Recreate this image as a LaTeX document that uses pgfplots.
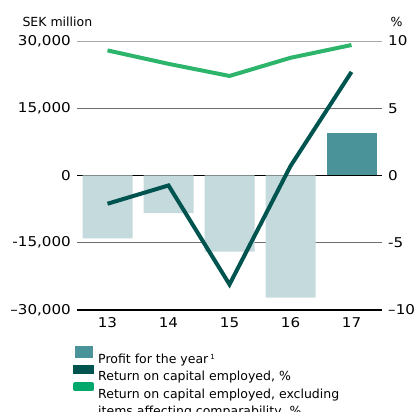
\documentclass[border=0pt]{standalone}
\usepackage{fontspec}
\setmainfont{DejaVu Sans}
\newfontfamily\tickfam[FakeStretch=1.12, Ligatures=TeX]{DejaVu Sans}
\usepackage{pgfplots}
\pgfplotsset{compat=1.18}
\definecolor{lightbar}{HTML}{C5DADD}
\definecolor{darkbar}{HTML}{4A9399}
\definecolor{darkline}{HTML}{00544F}
\definecolor{greenline}{HTML}{2DB56C}
\definecolor{legendgreen}{HTML}{00A86B}
\definecolor{gridgray}{HTML}{6E6E6E}
\definecolor{topgray}{HTML}{A8A8A8}
\newcommand{\tickfont}{\tickfam\fontsize{13.5}{16}\selectfont}
\begin{document}
\begin{tikzpicture}
\pgfplotsset{
  common/.style={
    scale only axis, width=305pt, height=269pt,
    xmin=12.5, xmax=17.5,
    major tick length=0pt,
    scaled y ticks=false, scaled x ticks=false,
    tick label style={font=\tickfont},
  }
}
\begin{axis}[common, name=ax,
  axis lines=left, axis line style={draw=none},
  ymin=-30000, ymax=30000,
  ytick={-15000,15000,30000},
  yticklabels={{-15,000},{15,000},{30,000}},
  ymajorgrids, grid style={gridgray, line width=0.6pt},
  extra y ticks={-30000,0},
  extra y tick labels={{--30,000},{0}},
  extra y tick style={grid style={black, line width=1.2pt}},
  xtick={13,14,15,16,17}, xticklabels={13,14,15,16,17},
  yticklabel style={inner xsep=0pt, xshift=-6pt},
  xticklabel style={inner ysep=0pt, yshift=-7pt},
]
\addplot[ybar, bar width=50pt, bar shift=0pt, fill=lightbar, draw=none] coordinates {(13,-14000) (14,-8400) (15,-17000) (16,-27250)};
\addplot[ybar, bar width=50pt, bar shift=0pt, fill=darkbar, draw=none] coordinates {(17,9560)};
\end{axis}
\begin{axis}[common,
  axis y line*=right, axis x line=none, axis line style={draw=none},
  ymin=-10, ymax=10,
  ytick={10}, yticklabels={10},
  ymajorgrids, grid style={topgray, line width=0.9pt},
  extra y ticks={-10,-5,0,5},
  extra y tick labels={{--10},{-5},{0},{5}},
  extra y tick style={grid=none},
  yticklabel style={inner xsep=0pt, xshift=6pt},
  legend style={at={(rel axis cs:0,0)}, anchor=north west, xshift=-4pt, yshift=-36pt,
    draw=none, fill=none, inner sep=0pt, row sep=0pt, column sep=4pt,
    font=\fontsize{12.5}{16.8}\selectfont,
    nodes={inner sep=0pt},
    cells={anchor=base west}},
  legend cell align=left,
]
\addlegendimage{legend image code/.code={\fill[darkbar] (0pt,1pt) rectangle (17pt,12pt);}}
\addlegendentry{\strut Profit for the year\,\textsuperscript{\fontsize{7}{8}\selectfont 1}}
\addplot[darkline, line width=4pt, line join=miter,
  legend image code/.code={\fill[darkline] (0pt,4.2pt) rectangle (17pt,8.8pt);}]
  coordinates {(13,-2.1) (14,-0.74) (15,-8.1) (16,0.7) (17,7.7)};
\addlegendentry{\strut Return on capital employed, \%}
\addplot[greenline, line width=4pt, line join=round,
  legend image code/.code={\fill[legendgreen] (0pt,4.5pt) rectangle (17pt,9pt);}]
  coordinates {(13,9.3) (14,8.3) (15,7.4) (16,8.75) (17,9.7)};
\addlegendentry{\begin{tabular}[t]{@{}l@{}}Return on capital employed, excluding\\items affecting comparability, \%\end{tabular}}
\end{axis}
\node[anchor=base west, font=\fontsize{12.5}{15}\selectfont] at ([xshift=-58pt, yshift=14pt]ax.north west) {SEK million};
\node[anchor=base east, font=\fontsize{12.5}{15}\selectfont] at ([xshift=24pt, yshift=14pt]ax.north east) {\%};
\pgfresetboundingbox
\path ([xshift=-77pt,yshift=41pt]ax.north west) rectangle ([xshift=33pt,yshift=-102pt]ax.south east);
\end{tikzpicture}
\end{document}
